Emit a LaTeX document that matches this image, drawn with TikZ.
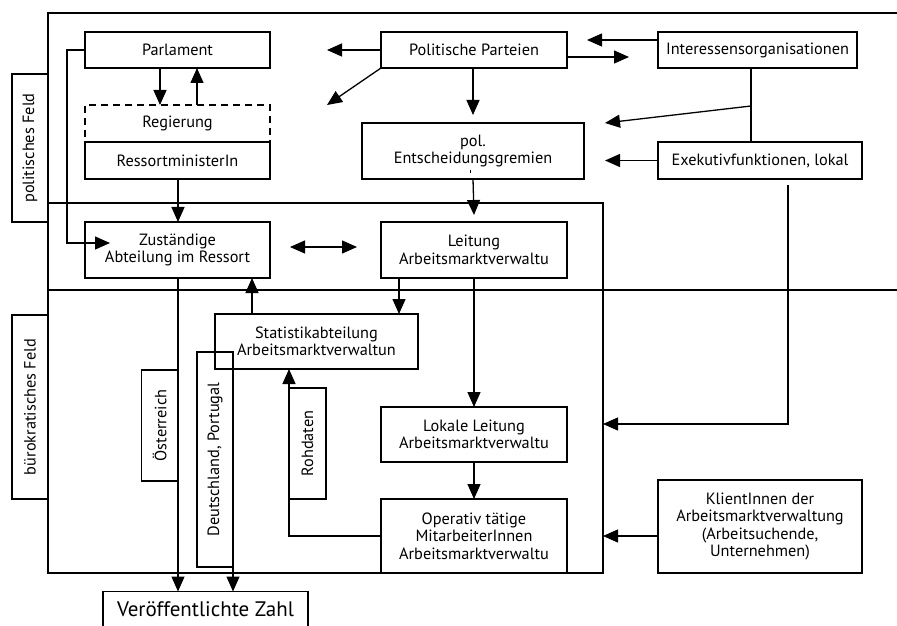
\documentclass[tikz,border=0pt]{standalone}
\usepackage{fontspec}
\setmainfont{PT Sans}
\usetikzlibrary{arrows.meta,calc}
\begin{document}
\begin{tikzpicture}[x=1bp,y=-1bp, line width=1.3bp,
  every node/.style={font=\fontsize{16.3bp}{17.5bp}\selectfont, align=center, inner sep=0pt, outer sep=0pt},
  nbox/.style={draw, rectangle},
  dbox/.style={draw, rectangle, dash pattern=on 7bp off 5bp},
  arr/.style={-{Triangle[length=15bp,width=13bp]}},
  darr/.style={{Triangle[length=15bp,width=13bp]}-{Triangle[length=15bp,width=13bp]}}]
\useasboundingbox (0,0) rectangle (897,626);

% fields
\draw (48,573) -- (48,13) -- (897,13);
\draw (48,290) -- (897,290);
\node[nbox, minimum width=555bp, minimum height=370bp] (bframe) at (325.5,388) {};
\node[nbox, rotate=90, minimum width=148bp, minimum height=36bp] (polfeld) at (30,148) {politisches Feld};
\node[nbox, rotate=90, minimum width=184bp, minimum height=36bp] (burfeld) at (30,407) {bürokratisches Feld};

% boxes
\node[nbox, minimum width=185bp, minimum height=36bp] (parl) at (177.5,50) {Parlament};
\node[dbox, minimum width=185bp, minimum height=37bp] (reg) at (177.5,123.5) {Regierung};
\node[nbox, minimum width=185bp, minimum height=37bp] (ress) at (177.5,160.5) {RessortministerIn};
\node[nbox, minimum width=186bp, minimum height=36bp] (parteien) at (474,50) {Politische Parteien};
\node[nbox, minimum width=199bp, minimum height=36bp] (interessen) at (757.5,50) {Interessensorganisationen};
\node[nbox, minimum width=222bp, minimum height=56bp] (gremien) at (473,151) {pol.\\Entscheidungsgremien};
\fill (469.6,170.5) rectangle (470.8,173.5);
\node[nbox, minimum width=204bp, minimum height=37bp] (exek) at (760,160.5) {Exekutivfunktionen, lokal};
\node[nbox, minimum width=185bp, minimum height=56bp] (zust) at (177.5,250) {Zuständige\\Abteilung im Ressort};
\node[nbox, minimum width=186bp, minimum height=56bp] (leitung) at (474,250) {Leitung\\Arbeitsmarktverwaltu};
\node[nbox, minimum width=203bp, minimum height=55bp] (stat) at (316.5,341.5) {Statistikabteilung\\Arbeitsmarktverwaltun};
\node[nbox, minimum width=186bp, minimum height=55bp] (lokal) at (474,434.5) {Lokale Leitung\\Arbeitsmarktverwaltu};
\node[nbox, minimum width=186bp, minimum height=74bp] (oper) at (474,536) {Operativ tätige\\MitarbeiterInnen\\Arbeitsmarktverwaltu};
\node[nbox, minimum width=204bp, minimum height=93bp] (klient) at (760,526.5) {KlientInnen der\\Arbeitsmarktverwaltung\\(Arbeitsuchende,\\Unternehmen)};
\node[nbox, rotate=90, minimum width=111bp, minimum height=36bp] (oest) at (159.5,425.5) {Österreich};
\node[nbox, rotate=90, minimum width=215bp, minimum height=36bp] (deut) at (215,459.5) {Deutschland, Portugal};
\node[nbox, rotate=90, minimum width=111bp, minimum height=37bp] (roh) at (307.5,443.5) {Rohdaten};
\node[minimum width=205bp, minimum height=35bp, font=\fontsize{21bp}{23bp}\selectfont] (zahl) at (205.5,609) {Veröffentlichte Zahl};
\draw (zahl.south west) |- (zahl.north east) -- (zahl.south east);

% free ends
\coordinate (pL) at (327,50);
\coordinate (pDL) at (327,105);
\coordinate (iL) at (587,40);
\coordinate (pR) at (629,57);
\coordinate (ibr) at (751,106);
\coordinate (gR) at (605,123);
\coordinate (eL) at (605,160.5);
\coordinate (eTop) at (788,185);
\coordinate (eCorner) at (788,424);

% connectors
\draw[arr] ([xshift=-17.5bp]parl.south) -- ([xshift=-17.5bp]reg.north);
\draw[arr] ([xshift=19.5bp]reg.north) -- ([xshift=19.5bp]parl.south);
\draw[arr] ([xshift=0.5bp]ress.south) -- ([xshift=0.5bp]zust.north);
\draw[arr] (parl.west) -- ++(-18,0) |- ([shift={(25bp,7bp)}]zust.west);
\draw[darr] ([shift={(20bp,3bp)}]zust.east) -- ([shift={(-24bp,3bp)}]leitung.west);
\draw[arr] (parteien.west) -- (pL);
\draw[arr] (parteien.south west) -- (pDL);
\draw[arr] ([xshift=-1bp]parteien.south) -- ([yshift=8bp]gremien.north);
\draw[arr] (gremien.south) -- ([yshift=7bp]leitung.north);
\draw[arr] (interessen.west |- iL) -- (iL);
\draw[arr] (parteien.east |- pR) -- (pR);
\draw ([xshift=-6.5bp]interessen.south) -- ([xshift=-6.5bp]interessen.south |- exek.north);
\draw[arr] (ibr) -- (gR);
\draw[arr] (exek.west) -- (eL);
\draw[arr] (eTop) -- (eCorner) -- (eCorner -| bframe.east);
\draw[arr] ([yshift=-9.5bp]klient.west) -- ([yshift=-9.5bp]klient.west -| bframe.east);
\draw[arr] ([xshift=-75bp]leitung.south) -- ([xshift=-75bp]leitung.south |- stat.north);
\draw[arr] (leitung.south) -- (lokal.north);
\draw[arr] (lokal.south) -- (oper.north);
\draw[arr] ([xshift=-64.5bp]stat.north) -- ([xshift=-64.5bp]stat.north |- zust.south);
\draw[arr] ([xshift=0.5bp]zust.south) -- ([xshift=0.5bp]zust.south |- zahl.north);
\draw[arr] (deut.south east) -- (deut.south east |- zahl.north);
\draw[arr] (oper.west) -| (roh.north west) -- (roh.north west |- stat.south);
\end{tikzpicture}
\end{document}
